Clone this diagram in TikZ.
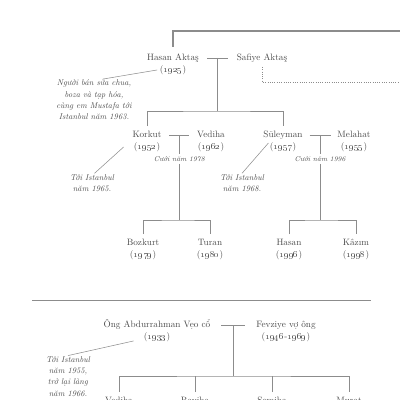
\documentclass[tikz,border=0pt]{standalone}
\usetikzlibrary{positioning,calc}
\definecolor{famInk}{HTML}{4A4A4A}
\definecolor{famLine}{HTML}{8C8C8C}
\newcommand{\yr}[1]{(\oldstylenums{#1})}

\begin{document}
\begin{tikzpicture}[
  x=0.04cm, y=-0.04cm,
  font=\fontsize{10.5}{12}\selectfont,
  person/.style={text=famInk, inner sep=0pt, text height=1.6ex, text depth=.4ex},
  year/.style={person, below=4.6pt of #1},
  note/.style={text=famInk, font=\fontsize{9.5}{12.8}\selectfont\itshape, align=center, inner sep=1pt},
  wed/.style={text=famInk, font=\fontsize{8}{9}\selectfont\itshape, inner sep=2.5pt},
  link/.style={draw=famLine, line width=1pt},
  trunk/.style={draw=famLine, line width=1.6pt},
  pointer/.style={draw=famLine, line width=.6pt},
  lineage/.style={draw=famLine, line width=.6pt, dotted},
  divider/.style={draw=famLine, line width=.7pt},
  kid/.style={link, shorten <=2mm, shorten >=2mm},
  drop/.style={link, shorten <=2mm}
]
\useasboundingbox (0,0) rectangle (400,400);
\clip (0,0) rectangle (400,400);

% Aktas family
\node[person] (hasan) at (173,58) {Hasan Aktaş};
\node[year=hasan] (hasanY) {\yr{1925}};
\node[person] (safiye) at (262,58) {Safiye Aktaş};
\node[note] (hasanNote) at (94,100) {Người bán sữa chua,\\boza và tạp hóa,\\cùng em Mustafa tới\\Istanbul năm 1963.};

\node[person] (korkut) at (147,135) {Korkut};
\node[year=korkut] (korkutY) {\yr{1952}};
\node[person] (vediha) at (211,135) {Vediha};
\node[year=vediha] (vedihaY) {\yr{1962}};
\node[note] (korkutNote) at (92,183) {Tới Istanbul\\năm 1965.};

\node[person] (suleyman) at (283,135) {Süleyman};
\node[year=suleyman] (suleymanY) {\yr{1957}};
\node[person] (melahat) at (354,135) {Melahat};
\node[year=melahat] (melahatY) {\yr{1955}};
\node[note] (suleymanNote) at (242,183) {Tới Istanbul\\năm 1968.};

\node[person] (bozkurt) at (143,243) {Bozkurt};
\node[year=bozkurt] (bozkurtY) {\yr{1979}};
\node[person] (turan) at (210,243) {Turan};
\node[year=turan] (turanY) {\yr{1980}};
\node[person] (hasanJr) at (289,243) {Hasan};
\node[year=hasanJr] (hasanJrY) {\yr{1996}};
\node[person] (kazim) at (356,243) {Kâzım};
\node[year=kazim] (kazimY) {\yr{1998}};

% links
\coordinate (trunkEnd) at (405,31);
\coordinate (lineageEnd) at (405,82);
\draw[trunk] ([yshift=3mm]hasan.north) |- (trunkEnd);
\draw[lineage] ([yshift=-2mm]safiye.south) |- (lineageEnd);

\coordinate (hasanM) at ($(hasan.east)!.5!(safiye.west)$);
\path (hasanM) ++(0,53) coordinate (hasanBar);
\draw[link] ([xshift=-4.2mm]hasanM) -- ([xshift=4.2mm]hasanM);
\draw[link] (hasanM) -- (hasanBar);
\draw[kid] (korkut.north) |- (hasanBar) -| (suleyman.north);

\coordinate (korkutM) at ($(korkut.east)!.5!(vediha.west)$);
\node[wed] (korkutWed) at ($(korkutM)+(0,24)$) {Cưới năm 1978};
\path (korkutM) ++(0,85) coordinate (korkutBar);
\draw[link] ([xshift=-4mm]korkutM) -- ([xshift=4mm]korkutM);
\draw[link] (korkutM) -- (korkutM |- korkutWed.north);
\draw[link] (korkutM |- korkutWed.south) -- (korkutBar);
\draw[kid] (bozkurt.north) |- (korkutBar) -| (turan.north);

\coordinate (suleymanM) at ($(suleyman.east)!.5!(melahat.west)$);
\node[wed] (suleymanWed) at ($(suleymanM)+(0,24)$) {Cưới năm 1996};
\path (suleymanM) ++(0,85) coordinate (suleymanBar);
\draw[link] ([xshift=-4.2mm]suleymanM) -- ([xshift=4.2mm]suleymanM);
\draw[link] (suleymanM) -- (suleymanM |- suleymanWed.north);
\draw[link] (suleymanM |- suleymanWed.south) -- (suleymanBar);
\draw[kid] (hasanJr.north) |- (suleymanBar) -| (kazim.north);

\draw[pointer] ([xshift=-1mm]hasanY.west) -- ([xshift=3.5mm]hasanNote.north);
\draw[pointer] ([xshift=-4mm]korkutY.west) -- ([xshift=1mm]korkutNote.north);
\draw[pointer] ([xshift=-.5mm]suleymanY.north west) -- (suleymanNote.north);

% second family
\coordinate (sepL) at (32,300);
\coordinate (sepR) at (371,300);
\draw[divider] (sepL) -- (sepR);

\node[person] (abdur) at (157,325) {Ông Abdurrahman Vẹo cổ};
\node[year=abdur] (abdurY) {\yr{1933}};
\node[person] (fevziye) at (286,325) {Fevziye vợ ông};
\node[year=fevziye] (fevziyeY) {(\oldstylenums{1946}-\oldstylenums{1969})};
\node[note] (abdurNote) at (68,376.5) {Tới Istanbul\\năm 1955,\\trở lại làng\\năm 1966.};

\node[person] (vedihaB) at (119,401) {Vediha};
\node[person] (raviha) at (195,401) {Raviha};
\node[person] (semiha) at (272,401) {Semiha};
\node[person] (murat) at (349,401) {Murat};

\coordinate (abdurM) at ($(abdur.east)!.5!(fevziye.west)$);
\path (abdurM) ++(0,51) coordinate (abdurBar);
\draw[link] ([xshift=-4.8mm]abdurM) -- ([xshift=4.8mm]abdurM);
\draw[link] (abdurM) -- (abdurBar);
\draw[kid] (vedihaB.north) |- (abdurBar) -| (murat.north);
\draw[drop] (raviha.north) -- (raviha.north |- abdurBar);
\draw[drop] (semiha.north) -- (semiha.north |- abdurBar);

\draw[pointer] ([xshift=-4mm]abdurY.south west) -- (abdurNote.north);
\end{tikzpicture}
\end{document}
